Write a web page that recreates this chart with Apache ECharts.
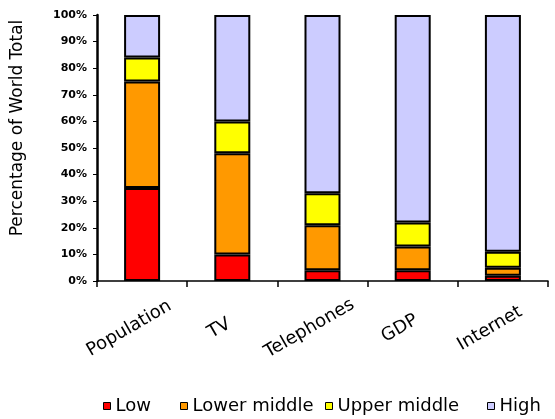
<!DOCTYPE html>
<html><head><meta charset="utf-8">
<script src="https://cdn.jsdelivr.net/npm/echarts@6/dist/echarts.min.js"></script>
<style>html,body{margin:0;padding:0;background:#fff}#c{width:555px;height:419px}</style>
</head><body><div id="c"></div>
<script>
const categories = ['Population', 'TV', 'Telephones', 'GDP', 'Internet'];
const low = [35, 10, 4, 4, 2];
const lowerMiddle = [40, 38, 17, 9, 3];
const upperMiddle = [9, 12, 12, 9, 6];
const high = [16, 40, 67, 78, 89];
const seriesNames = ['Low', 'Lower middle', 'Upper middle', 'High'];
const yTicks = [0,10,20,30,40,50,60,70,80,90,100];

const chart = echarts.init(document.getElementById('c'));
function mk(name, data, color) {
  return {
    name, type: 'bar', stack: 'total', data, barWidth: 36,
    itemStyle: {color, borderColor: '#000', borderWidth: 2}
  };
}
const legendLefts = [103, 180, 325, 487];
const legendText = {fontFamily: 'DejaVu Sans', fontSize: 18, color: '#000'};
chart.setOption({
  animation: false,
  grid: {left: 97, right: 7, top: 15, bottom: 138},
  legend: seriesNames.map((n, i) => ({
    data: [n], left: legendLefts[i], top: 397, padding: 0, itemWidth: 7, itemHeight: 7, itemGap: 0,
    icon: 'rect',
    itemStyle: {borderColor: '#000', borderWidth: 1},
    textStyle: legendText
  })),
  xAxis: {
    type: 'category', data: categories,
    axisLine: {lineStyle: {color: '#000', width: 1.5}},
    axisTick: {show: true, length: 6, lineStyle: {color: '#000', width: 1.5}},
    axisLabel: {rotate: 30, align: 'center', verticalAlign: 'middle', padding: [0, 30, 0, 0],
      fontFamily: 'DejaVu Sans', fontSize: 18, color: '#000', margin: 40}
  },
  yAxis: {
    type: 'value', min: 0, max: 100, interval: 10,
    name: 'Percentage of World Total', nameLocation: 'middle', nameGap: 71,
    nameTextStyle: {fontFamily: 'DejaVu Sans', fontSize: 17, color: '#000', padding: [0, 0, 0, 40]},
    axisLine: {show: true, lineStyle: {color: '#000', width: 2.5}},
    axisTick: {show: true, length: 4, lineStyle: {color: '#000', width: 1}},
    splitLine: {show: false},
    axisLabel: {formatter: v => yTicks.includes(v) ? v + '%' : '', fontFamily: 'DejaVu Sans', fontSize: 11, fontWeight: 'bold', color: '#000', margin: 10}
  },
  series: [
    mk('Low', low, '#FF0000'),
    mk('Lower middle', lowerMiddle, '#FF9900'),
    mk('Upper middle', upperMiddle, '#FFFF00'),
    mk('High', high, '#CCCCFF')
  ]
});
</script></body></html>
